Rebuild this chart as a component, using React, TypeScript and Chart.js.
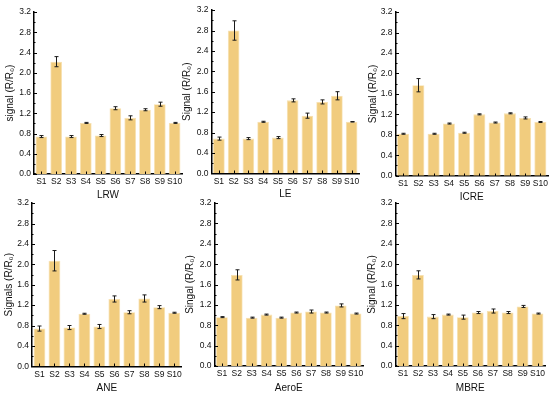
import React, { useEffect, useRef } from 'react';
import { Chart, registerables } from 'chart.js';
Chart.register(...registerables);

const categories = ['S1', 'S2', 'S3', 'S4', 'S5', 'S6', 'S7', 'S8', 'S9', 'S10'];

const lrwValues = [0.74, 2.22, 0.74, 1.01, 0.76, 1.30, 1.11, 1.27, 1.38, 1.01];
const lrwErrors = [0.02, 0.10, 0.02, 0.01, 0.02, 0.03, 0.04, 0.02, 0.04, 0.01];

const leValues = [0.68, 2.80, 0.68, 1.01, 0.70, 1.43, 1.13, 1.40, 1.52, 1.01];
const leErrors = [0.03, 0.19, 0.02, 0.01, 0.02, 0.03, 0.05, 0.04, 0.08, 0.005];

const icreValues = [0.82, 1.77, 0.82, 1.02, 0.84, 1.20, 1.04, 1.22, 1.13, 1.05];
const icreErrors = [0.01, 0.13, 0.01, 0.01, 0.01, 0.01, 0.01, 0.01, 0.02, 0.01];

const aneValues = [0.74, 2.07, 0.76, 1.03, 0.78, 1.32, 1.06, 1.33, 1.16, 1.05];
const aneErrors = [0.05, 0.20, 0.04, 0.01, 0.04, 0.06, 0.03, 0.07, 0.03, 0.01];

const aeroeValues = [0.96, 1.79, 0.95, 1.01, 0.95, 1.05, 1.07, 1.05, 1.19, 1.03];
const aeroeErrors = [0.01, 0.10, 0.01, 0.01, 0.01, 0.01, 0.03, 0.01, 0.03, 0.01];

const mbreValues = [0.98, 1.79, 0.97, 1.01, 0.96, 1.05, 1.08, 1.05, 1.17, 1.03];
const mbreErrors = [0.05, 0.08, 0.04, 0.01, 0.04, 0.02, 0.04, 0.02, 0.02, 0.01];

const panelTitles = ['LRW', 'LE', 'ICRE', 'ANE', 'AeroE', 'MBRE'];
const yAxisTitles = [
  'signal (R/R₀)',
  'Signal (R/R₀)',
  'Signal (R/R₀)',
  'Signals (R/R₀)',
  'Singal (R/R₀)',
  'Signal (R/R₀)',
];
const yMin = 0;
const yMax = 3.2;
const yStep = 0.4;

const panelValues = [lrwValues, leValues, icreValues, aneValues, aeroeValues, mbreValues];
const panelErrors = [lrwErrors, leErrors, icreErrors, aneErrors, aeroeErrors, mbreErrors];

// layout (pixels on the page)
const layouts = [
  { plotL: 34, plotT: 10.5, plotR: 182, plotB: 174, yTitleX: 10, xTitleY: 195 },
  { plotL: 211.5, plotT: 8.7, plotR: 359, plotB: 173.3, yTitleX: 187, xTitleY: 193.5 },
  { plotL: 395.5, plotT: 10, plotR: 548, plotB: 175.7, yTitleX: 373, xTitleY: 196.5 },
  { plotL: 32, plotT: 201.5, plotR: 181.7, plotB: 366.3, yTitleX: 9, xTitleY: 388 },
  { plotL: 214.5, plotT: 201, plotR: 363, plotB: 366, yTitleX: 190, xTitleY: 388 },
  { plotL: 395.5, plotT: 201, plotR: 545, plotB: 366, yTitleX: 372, xTitleY: 388 },
];

const FONT = '"Liberation Sans", Arial, sans-serif';
const TITLE_SIZE = 10;
const TITLE_LH = 1.2;
const HALF = (TITLE_SIZE * TITLE_LH) / 2;

function makeDecor(errors: number[]) {
  return {
    id: 'decor',
    afterDatasetsDraw(chart: any) {
      const ctx = chart.ctx;
      const y = chart.scales.y;
      const meta = chart.getDatasetMeta(0);
      const data = chart.data.datasets[0].data as number[];
      ctx.save();
      ctx.strokeStyle = '#1a1a1a';
      ctx.lineWidth = 1;
      meta.data.forEach((bar: any, i: number) => {
        const v = data[i];
        const e = errors[i];
        const px = Math.round(bar.x) + 0.5;
        const top = y.getPixelForValue(v + e);
        const bot = y.getPixelForValue(v - e);
        ctx.beginPath();
        ctx.moveTo(px, top);
        ctx.lineTo(px, bot);
        ctx.moveTo(px - 2, top);
        ctx.lineTo(px + 2, top);
        ctx.moveTo(px - 2, bot);
        ctx.lineTo(px + 2, bot);
        ctx.stroke();
      });
      ctx.restore();
    },
    afterDraw(chart: any) {
      const ctx = chart.ctx;
      const y = chart.scales.y;
      const x = chart.scales.x;
      const area = chart.chartArea;
      ctx.save();
      ctx.strokeStyle = '#000';
      ctx.lineWidth = 1;
      ctx.beginPath();
      const lx = Math.round(area.left);
      y.ticks.forEach((t: any) => {
        const py = Math.round(y.getPixelForValue(t.value)) + 0.5;
        ctx.moveTo(lx, py);
        ctx.lineTo(lx + 3, py);
        const mv = t.value + yStep / 2;
        if (mv < yMax) {
          const pm = Math.round(y.getPixelForValue(mv)) + 0.5;
          ctx.moveTo(lx, pm);
          ctx.lineTo(lx + 1.5, pm);
        }
      });
      const by = Math.round(area.bottom);
      categories.forEach((_, i) => {
        const px = Math.round(x.getPixelForValue(i)) + 0.5;
        ctx.moveTo(px, by);
        ctx.lineTo(px, by - 2.5);
      });
      ctx.stroke();
      ctx.restore();
    },
  };
}

function Panel({ idx }: { idx: number }) {
  const ref = useRef<HTMLCanvasElement>(null);
  const L = layouts[idx];
  const cLeft = Math.round(L.yTitleX - HALF);
  const cTop = Math.floor(L.plotT - 6);
  const cRight = Math.ceil(L.plotR + 4);
  const cBottom = Math.round(L.xTitleY + HALF);
  const width = cRight - cLeft;
  const height = cBottom - cTop;

  useEffect(() => {
    if (!ref.current) return;
    const yWidth = L.plotL - cLeft;
    const xHeight = cBottom - L.plotB;
    const chart = new Chart(ref.current, {
      type: 'bar',
      data: {
        labels: categories,
        datasets: [
          {
            data: panelValues[idx],
            backgroundColor: '#F1CC7E',
            borderColor: '#F7E1B0',
            borderWidth: 0.8,
            categoryPercentage: 1,
            barPercentage: 0.79,
          },
        ],
      },
      options: {
        responsive: false,
        animation: false,
        devicePixelRatio: 1,
        layout: { padding: { left: 0, top: L.plotT - cTop, right: cRight - L.plotR, bottom: 0 } },
        plugins: { legend: { display: false }, tooltip: { enabled: false } },
        scales: {
          x: {
            grid: { display: false, drawTicks: false },
            border: { display: true, color: '#000', width: 1.5 },
            ticks: { color: '#111', font: { family: FONT, size: 8.5 }, padding: 3, maxRotation: 0, autoSkip: false },
            title: {
              display: true,
              text: panelTitles[idx],
              color: '#111',
              font: { family: FONT, size: TITLE_SIZE, lineHeight: TITLE_LH },
              padding: 0,
            },
            afterFit: (s: any) => {
              s.height = xHeight;
            },
          },
          y: {
            min: yMin,
            max: yMax,
            grid: { display: false, drawTicks: false },
            border: { display: true, color: '#000', width: 1.5 },
            ticks: {
              stepSize: yStep,
              color: '#111',
              font: { family: FONT, size: 8.5 },
              padding: 3,
              callback: (v: any) => Number(v).toFixed(1),
            },
            title: {
              display: true,
              text: yAxisTitles[idx],
              color: '#111',
              font: { family: FONT, size: TITLE_SIZE, lineHeight: TITLE_LH },
              padding: 0,
            },
            afterFit: (s: any) => {
              s.width = yWidth;
            },
          },
        },
      },
      plugins: [makeDecor(panelErrors[idx])],
    } as any);
    return () => chart.destroy();
  }, []);

  return (
    <canvas
      ref={ref}
      width={width}
      height={height}
      style={{ position: 'absolute', left: cLeft, top: cTop, width, height }}
    />
  );
}

export default function App() {
  return (
    <div style={{ position: 'absolute', left: 0, top: 0, width: 550, height: 398, background: '#fff', overflow: 'hidden' }}>
      {layouts.map((_, i) => (
        <Panel key={i} idx={i} />
      ))}
    </div>
  );
}
